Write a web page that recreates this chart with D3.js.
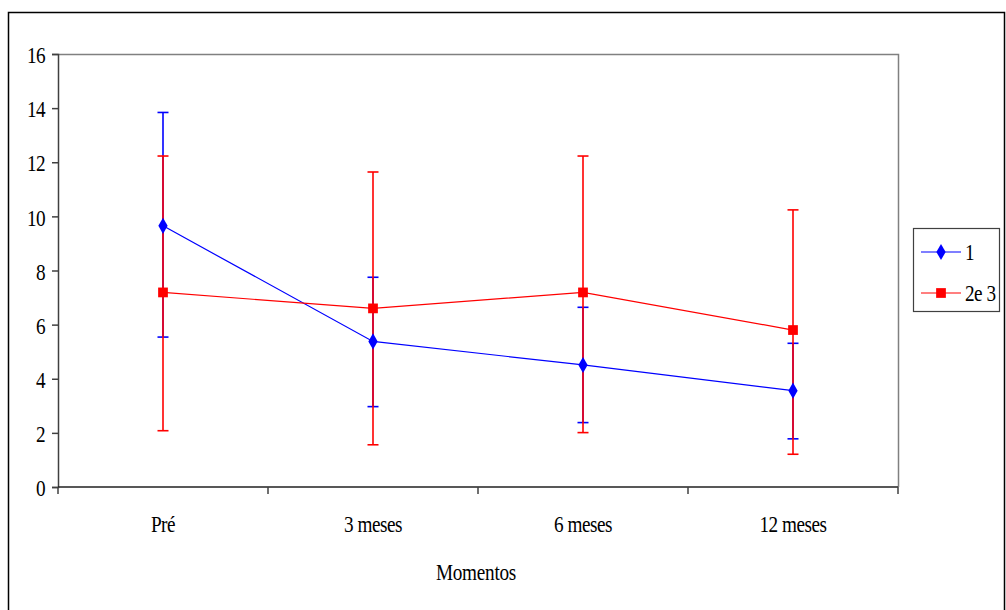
<!DOCTYPE html>
<html>
<head>
<meta charset="utf-8">
<script src="https://cdn.jsdelivr.net/npm/d3@7"></script>
<style>
  body { margin: 0; background: #fff; }
  svg text { font-family: "Liberation Serif", "Times New Roman", serif; fill: #000; }
</style>
</head>
<body>
<div id="my_dataviz"></div>
<script>
// data
var categories = ["Pré", "3 meses", "6 meses", "12 meses"];
var seriesNames = ["1", "2e 3"];
var mean1 = [9.65, 5.38, 4.51, 3.56];
var upper1 = [13.84, 7.75, 6.64, 5.31];
var lower1 = [5.54, 2.97, 2.38, 1.78];
var mean2 = [7.19, 6.60, 7.19, 5.80];
var upper2 = [12.23, 11.64, 12.23, 10.24];
var lower2 = [2.08, 1.56, 2.01, 1.21];
var yTicks = [0, 2, 4, 6, 8, 10, 12, 14, 16];

var W = 1006, H = 610;
var margin = {top: 54, left: 58},
    width = 840,
    height = 433;
var sx = 0.8; // condensed look of the serif text
var fs = "24px";

var svg0 = d3.select("#my_dataviz")
    .append("svg")
    .attr("width", W)
    .attr("height", H);

// outer frame
svg0.append("rect")
    .attr("x", 8.5).attr("y", 12.5)
    .attr("width", 996).attr("height", 620)
    .attr("fill", "none").attr("stroke", "#000").attr("stroke-width", 1.5);

var svg = svg0.append("g")
    .attr("transform", "translate(" + margin.left + "," + margin.top + ")");

var x = d3.scaleBand().domain(categories).range([0, width]);
var y = d3.scaleLinear().domain([0, 16]).range([height, 0]);

// plot area border (top and right)
svg.append("path")
    .attr("d", "M0,0.5H" + (width + 0.5) + "V" + height)
    .attr("fill", "none").attr("stroke", "#808080").attr("stroke-width", 1.5);

function condense(sel) {
    sel.each(function() {
        var t = d3.select(this);
        var tx = +t.attr("x") || 0;
        t.attr("x", tx / sx).attr("transform", "scale(" + sx + ",1)");
    });
}

// y axis
var yAxis = svg.append("g")
    .call(d3.axisLeft(y).tickValues(yTicks).tickSize(6).tickPadding(7).tickFormat(d3.format("d")));
yAxis.attr("font-family", null);
yAxis.select(".domain").attr("stroke", "#404040").attr("stroke-width", 1.5);
yAxis.selectAll(".tick line").attr("stroke", "#404040").attr("stroke-width", 1.5);
yAxis.selectAll("text").style("font-size", fs).style("letter-spacing", "-0.8px").attr("dy", "0.36em");
condense(yAxis.selectAll("text"));

// x axis with ticks on category boundaries
var xAxis = svg.append("g").attr("transform", "translate(0," + height + ")");
xAxis.append("line")
    .attr("x1", 0).attr("x2", width)
    .attr("stroke", "#202020").attr("stroke-width", 1.5);
xAxis.selectAll("line.tk")
    .data(categories.concat([null]))
    .enter().append("line")
    .attr("class", "tk")
    .attr("x1", function(d, i) { return i * x.bandwidth(); })
    .attr("x2", function(d, i) { return i * x.bandwidth(); })
    .attr("y1", 0).attr("y2", 7)
    .attr("stroke", "#404040").attr("stroke-width", 1.5);
xAxis.selectAll("text.lab")
    .data(categories)
    .enter().append("text")
    .attr("class", "lab")
    .attr("x", function(d) { return x(d) + x.bandwidth() / 2; })
    .attr("y", 45)
    .style("font-size", fs)
    .style("letter-spacing", "-0.6px")
    .style("text-anchor", "middle")
    .text(function(d) { return d; })
    .call(condense);

svg.append("text")
    .attr("x", width / 2 - 2)
    .attr("y", 526)
    .style("font-size", fs)
    .style("letter-spacing", "-0.3px")
    .style("text-anchor", "middle")
    .text("Momentos")
    .call(condense);

var series = [
    {name: seriesNames[0], mean: mean1, up: upper1, lo: lower1, color: "#0000ff", shape: d3.symbolDiamond},
    {name: seriesNames[1], mean: mean2, up: upper2, lo: lower2, color: "#ff0000", shape: d3.symbolSquare}
];

function cx(i) { return x(categories[i]) + x.bandwidth() / 2; }

// error bars
series.forEach(function(s) {
    var g = svg.append("g").attr("stroke", s.color).attr("stroke-width", 1.6).attr("fill", "none");
    s.mean.forEach(function(m, i) {
        g.append("line").attr("x1", cx(i)).attr("x2", cx(i)).attr("y1", y(s.lo[i])).attr("y2", y(s.up[i]));
        g.append("line").attr("x1", cx(i) - 5.5).attr("x2", cx(i) + 5.5).attr("y1", y(s.lo[i])).attr("y2", y(s.lo[i]));
        g.append("line").attr("x1", cx(i) - 5.5).attr("x2", cx(i) + 5.5).attr("y1", y(s.up[i])).attr("y2", y(s.up[i]));
    });
});

// lines
var line = d3.line()
    .x(function(d, i) { return cx(i); })
    .y(function(d) { return y(d); });
series.forEach(function(s) {
    svg.append("path")
        .attr("d", line(s.mean))
        .attr("fill", "none")
        .attr("stroke", s.color)
        .attr("stroke-width", 1.2);
});

// markers
series.forEach(function(s) {
    svg.selectAll("myPoints")
        .data(s.mean)
        .enter()
        .append("path")
        .attr("d", d3.symbol().type(s.shape).size(s.shape === d3.symbolSquare ? 95 : 75))
        .attr("transform", function(d, i) { return "translate(" + cx(i) + "," + y(d) + ")"; })
        .attr("fill", s.color);
});

// legend
var leg = svg0.append("g");
leg.append("rect")
    .attr("x", 913.5).attr("y", 228.5)
    .attr("width", 86).attr("height", 83)
    .attr("fill", "#fff").attr("stroke", "#404040").attr("stroke-width", 1.2);
series.forEach(function(s, i) {
    var ly = 252 + i * 41;
    leg.append("line")
        .attr("x1", 921).attr("x2", 961).attr("y1", ly).attr("y2", ly)
        .attr("stroke", s.color).attr("stroke-width", 1.2);
    leg.append("path")
        .attr("d", d3.symbol().type(s.shape).size(s.shape === d3.symbolSquare ? 95 : 75))
        .attr("transform", "translate(941," + ly + ")")
        .attr("fill", s.color);
    leg.append("text")
        .attr("x", 965)
        .attr("y", ly + 8)
        .style("font-size", fs)
        .style("letter-spacing", "-0.6px")
        .text(s.name)
        .call(condense);
});
</script>
</body>
</html>
